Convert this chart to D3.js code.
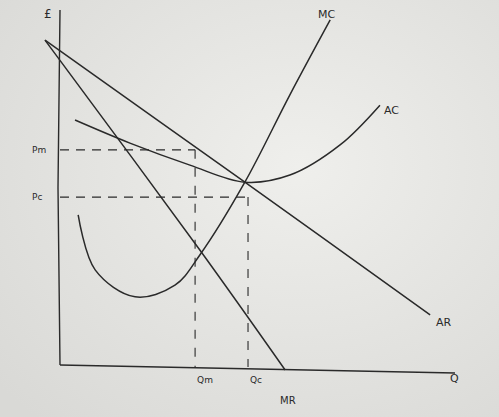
<!DOCTYPE html>
<html><head><meta charset="utf-8">
<script src="https://cdn.jsdelivr.net/npm/d3@7"></script>
<style>body{margin:0;background:#e6e6e3}</style>
</head><body>
<svg id="chart"></svg>
<script>
// hand drawn monopoly vs perfect competition diagram
const arPts = [[-3.8, 91.5], [46.8, 51.5], [93.7, 14.1]];
const mrPts = [[-3.8, 91.5], [35.4, 32.4], [57, -1.4]];
const mcPts = [[4.6, 42.3], [8.9, 26.8], [19, 19.2], [29.1, 22.5], [35.4, 31], [46.8, 51.5], [58.2, 76.1], [68.4, 97.2]];
const acPts = [[3.8, 69], [17.7, 62.5], [32.9, 56.3], [46.8, 51.5], [58.2, 53.5], [70.9, 62], [81, 73.2]];
const priceLevels = [{ label: 'Pm', p: 60.6, q: 34.2 }, { label: 'Pc', p: 47.3, q: 47.6 }];
const qLabels = ['Qm', 'Qc'];

const W = 499, H = 417;
const svg = d3.select('#chart').attr('width', W).attr('height', H);

const defs = svg.append('defs');
const grad = defs.append('radialGradient').attr('id', 'paper').attr('cx', '60%').attr('cy', '40%').attr('r', '80%');
grad.append('stop').attr('offset', '0%').attr('stop-color', '#efefec');
grad.append('stop').attr('offset', '100%').attr('stop-color', '#d9d9d6');
svg.append('rect').attr('width', W).attr('height', H).attr('fill', 'url(#paper)');

const x = d3.scaleLinear().domain([0, 100]).range([60, 455]);
const y = d3.scaleLinear().domain([0, 100]).range([365, 10]);

const ink = '#2a2a2a';
const line = d3.line().x(d => x(d[0])).y(d => y(d[1])).curve(d3.curveCatmullRom);

// axes
svg.append('path').attr('d', `M${x(0)},${y(100)} L${x(0) - 2},${y(50)} L${x(0)},${y(0)}`)
  .attr('stroke', ink).attr('fill', 'none').attr('stroke-width', 1.4);
svg.append('path').attr('d', `M${x(0)},${y(0)} L${x(100)},${y(0) + 8}`)
  .attr('stroke', ink).attr('fill', 'none').attr('stroke-width', 1.4);

[arPts, mrPts, mcPts, acPts].forEach(pts => {
  svg.append('path').attr('d', line(pts)).attr('stroke', ink)
    .attr('fill', 'none').attr('stroke-width', 1.5);
});

// dashed guides
priceLevels.forEach(d => {
  svg.append('line').attr('x1', x(0)).attr('x2', x(d.q)).attr('y1', y(d.p)).attr('y2', y(d.p))
    .attr('stroke', ink).attr('stroke-dasharray', '9,7').attr('stroke-width', 1.1);
  svg.append('line').attr('x1', x(d.q)).attr('x2', x(d.q)).attr('y1', y(d.p)).attr('y2', y(0) + 2)
    .attr('stroke', ink).attr('stroke-dasharray', '9,9').attr('stroke-width', 1.1);
});

const txt = (t, px, py, size) => svg.append('text').attr('x', px).attr('y', py)
  .attr('font-family', 'DejaVu Sans').attr('font-size', size || 10).attr('fill', ink).text(t);

priceLevels.forEach(d => txt(d.label, 32, y(d.p) + 3, 9));
qLabels.forEach((t, i) => txt(t, x(priceLevels[i].q) + 2, 383, 9));
txt('£', 44, 18, 12);
txt('Q', 450, 382, 11);
txt('MC', 318, 18, 11);
txt('AC', 384, 114, 11);
txt('AR', 436, 326, 11);
txt('MR', 280, 404, 10);
</script>
</body></html>
